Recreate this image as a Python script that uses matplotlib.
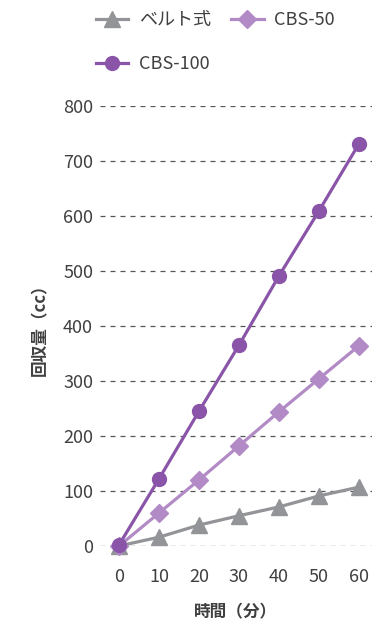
import matplotlib
matplotlib.use("Agg")
import matplotlib.pyplot as plt

plt.rcParams['font.family'] = ['Noto Sans CJK JP', 'DejaVu Sans']

# data
minutes = [0, 10, 20, 30, 40, 50, 60]
belt = [0, 16, 38, 55, 71, 91, 107]
cbs50 = [0, 60, 120, 182, 244, 304, 364]
cbs100 = [2, 122, 245, 365, 491, 609, 731]
yticks = [0, 100, 200, 300, 400, 500, 600, 700, 800]

fig = plt.figure(figsize=(3.76, 6.28), dpi=100)
ax = fig.add_axes([0.266, 0.1306, 0.723, 0.7006])

text_col = '#404040'
l1, = ax.plot(minutes, belt, color='#929497', lw=2.3, marker='^', ms=11,
              clip_on=False, zorder=3)
l2, = ax.plot(minutes, cbs50, color='#b28bc6', lw=2.3, marker='D', ms=9,
              clip_on=False, zorder=4)
l3, = ax.plot(minutes, cbs100, color='#8a55a8', lw=2.3, marker='o', ms=10,
              clip_on=False, zorder=5)

ax.set_xlim(-4.75, 63.25)
ax.set_ylim(0, 800)
ax.set_yticks(yticks)
ax.set_xticks(minutes)
ax.grid(axis='y', color='#555555', linestyle=(0, (4, 4)), lw=0.9)
ax.set_axisbelow(True)
for s in ax.spines.values():
    s.set_visible(False)
ax.tick_params(length=0, labelsize=13, labelcolor=text_col, pad=5)
ax.tick_params(axis='x', pad=16)

ax.set_xlabel('時間（分）', fontsize=12, fontweight='bold', color=text_col,
              labelpad=12)
ax.set_ylabel('回収量（cc）', fontsize=12, fontweight='bold', color=text_col,
              labelpad=10)

fig.legend([l1, l3, l2], ['ベルト式', 'CBS-100', 'CBS-50'], ncol=2,
           loc='upper left', bbox_to_anchor=(0.212, 1.008), frameon=False,
           fontsize=13, labelcolor=text_col, handlelength=1.8,
           columnspacing=1.1, labelspacing=1.45, handletextpad=0.6)

fig.savefig('out.png', dpi=100)
